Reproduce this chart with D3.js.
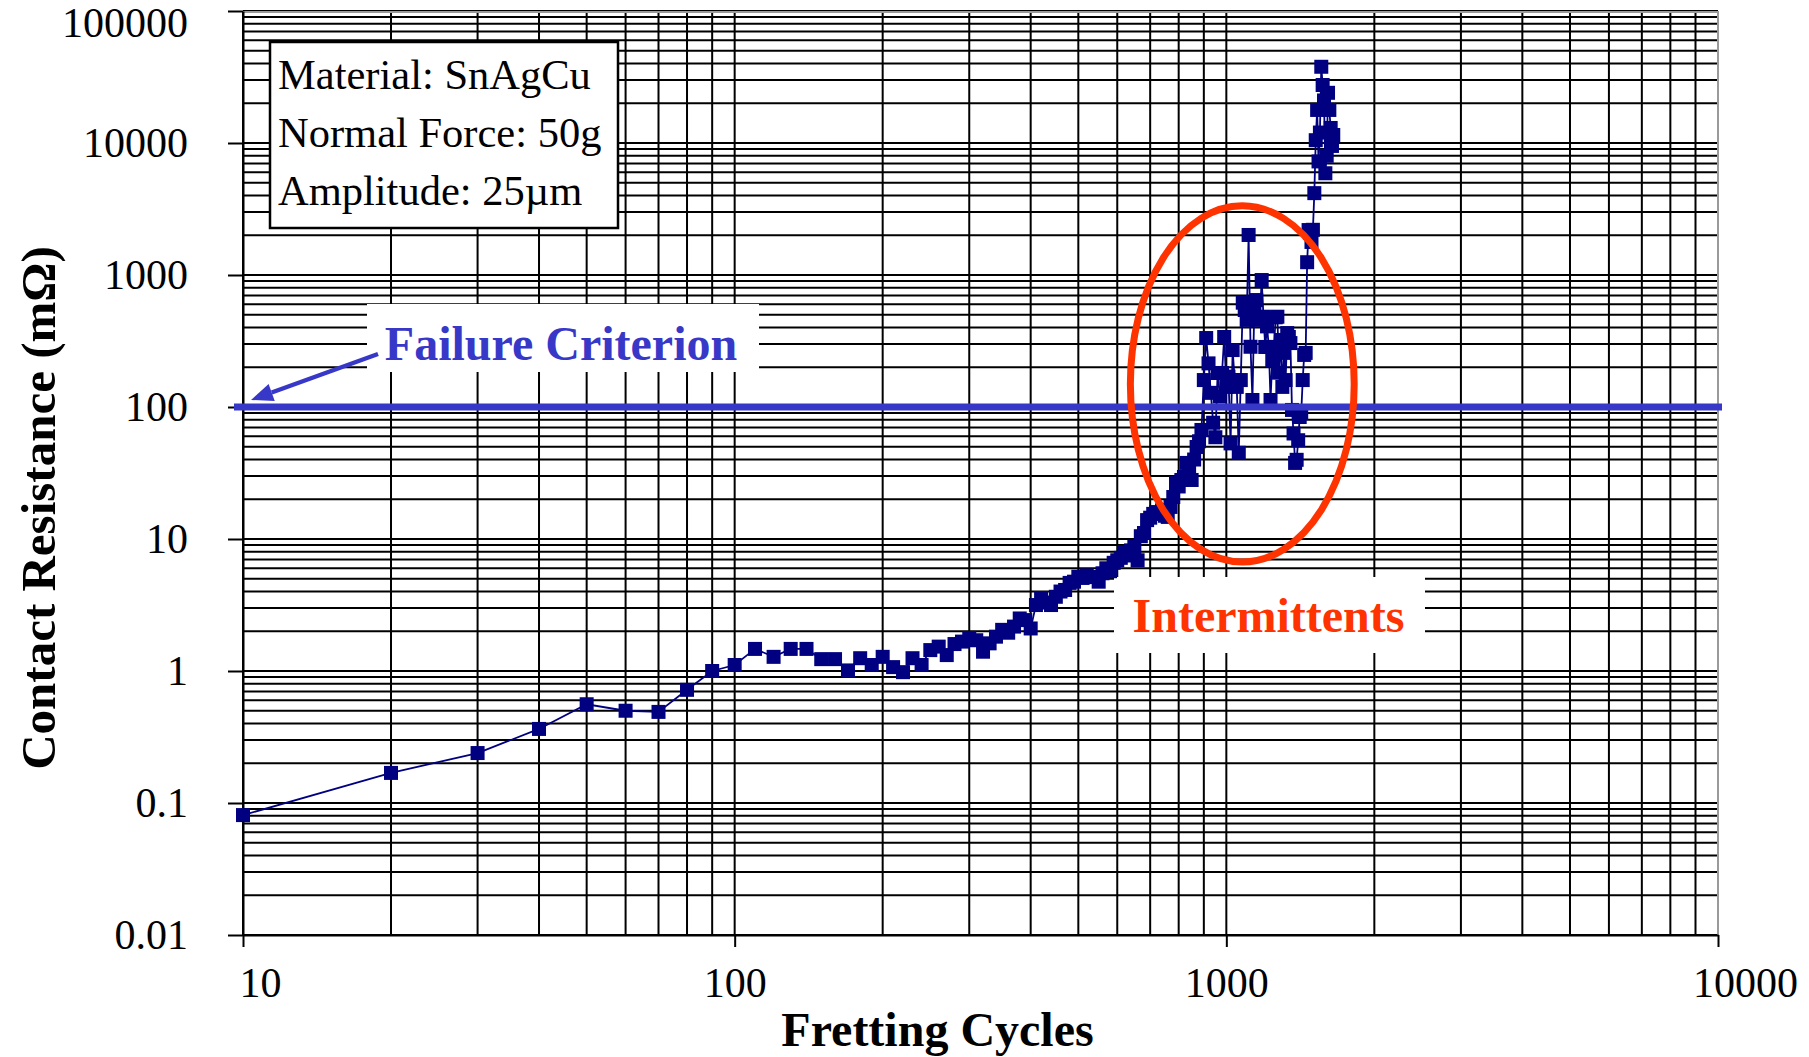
<!DOCTYPE html>
<html>
<head>
<meta charset="utf-8">
<script src="https://cdn.jsdelivr.net/npm/d3@7"></script>
<style>
  html, body { margin: 0; padding: 0; background: #fff; }
  svg { display: block; }
</style>
</head>
<body>
<svg id="chart" width="1809" height="1057"></svg>
<script>
// Fretting test: contact resistance vs. fretting cycles
const cycles = [
  10, 20, 30, 40, 50, 60, 70, 80, 90, 100,
  110, 120, 130, 140, 150, 160, 170, 180, 190, 200,
  210, 220, 230, 240, 250, 260, 270, 280, 290, 300,
  310, 320, 330, 340, 350, 360, 370, 380, 390, 400,
  410, 420, 430, 440, 450, 460, 470, 480, 490, 500,
  510, 520, 530, 540, 550, 560, 570, 580, 590, 600,
  610, 620, 630, 640, 650, 660, 670, 680, 690, 700,
  710, 720, 730, 740, 750, 760, 770, 780, 790, 800,
  810, 820, 830, 840, 850, 860, 870, 880, 890, 900,
  910, 920, 930, 940, 950, 960, 970, 980, 990, 1000,
  1010, 1020, 1030, 1040, 1050, 1060, 1070, 1080, 1090, 1100,
  1110, 1120, 1130, 1140, 1150, 1160, 1170, 1180, 1190, 1200,
  1210, 1220, 1230, 1240, 1250, 1260, 1270, 1280, 1290, 1300,
  1310, 1320, 1330, 1340, 1350, 1360, 1370, 1380, 1390, 1400,
  1410, 1420, 1430, 1440, 1450, 1460, 1470, 1480, 1490, 1500,
  1510, 1520, 1530, 1540, 1550, 1560, 1570, 1580, 1590, 1600,
  1610, 1620, 1630, 1640, 1650
];
const resistance = [
  0.081, 0.169, 0.239, 0.364, 0.56, 0.50, 0.49, 0.72, 1.0, 1.11,
  1.47, 1.28, 1.47, 1.47, 1.23, 1.23, 1.01, 1.25, 1.11, 1.28,
  1.07, 0.98, 1.25, 1.11, 1.44, 1.53, 1.32, 1.60, 1.67, 1.78,
  1.71, 1.40, 1.62, 1.82, 2.05, 1.95, 2.17, 2.50, 2.43, 2.10,
  3.16, 3.57, 3.30, 3.16, 3.65, 4.0, 4.11, 4.65, 4.75, 5.18,
  5.07, 5.30, 5.15, 5.15, 4.75, 5.5, 6.0, 5.7, 6.6, 6.9,
  7.2, 7.95, 7.5, 8.2, 8.7, 6.9, 10.5, 11.1, 13.9, 14.5,
  15.5, 16.0, 15.5, 16.5, 15.0, 14.7, 17.5, 20.8, 26.5, 25.0,
  28.0, 29.5, 37.7, 33.0, 28.0, 40.0, 49.8, 55, 67, 160,
  333, 214, 128, 76, 59, 181, 120, 181, 339, 142,
  170, 53, 270, 160, 142, 45, 160, 617, 543, 457,
  2010, 286, 113, 575, 646, 457, 478, 916, 483, 285,
  408, 285, 113, 227, 285, 478, 483, 182, 322, 142,
  257, 160, 363, 339, 305, 95, 63, 37.7, 39.8, 56,
  84, 90, 160, 248, 257, 1250, 2190, 2080, 1780, 2200,
  4170, 10500, 17800, 7250, 12000, 37800, 27500, 21000, 5900, 8000,
  24000, 17800, 13000, 9500, 11500
];

const xTickValues = [10, 100, 1000, 10000];
const xTickLabels = ["10", "100", "1000", "10000"];
const yTickValues = [0.01, 0.1, 1, 10, 100, 1000, 10000, 100000];
const yTickLabels = ["0.01", "0.1", "1", "10", "100", "1000", "10000", "100000"];

const failureCriterion = 100;               // mΩ
const infoLines = ["Material: SnAgCu", "Normal Force: 50g", "Amplitude: 25µm"];
const intermittentCycles = [638, 1820];      // ellipse extent on the cycle axis
const intermittentResistance = [6.7, 3340];  // ellipse extent on the resistance axis

const W = 1809, H = 1057;
const plot = { left: 243, right: 1718, top: 11, bottom: 935 };
const serif = "'Liberation Serif', 'Times New Roman', Times, serif";
const navy = "#000080";
const blue = "#3838c8";
const red = "#ff3300";

const svg = d3.select("#chart");
svg.append("rect").attr("width", W).attr("height", H).attr("fill", "#fff");

const x = d3.scaleLog().domain([10, 10000]).range([plot.left, plot.right]);
const y = d3.scaleLog().domain([0.01, 100000]).range([plot.bottom, plot.top]);

// Grid: every 1..9 multiple in each decade
const grid = svg.append("g").attr("stroke", "#000").attr("stroke-width", 2);
grid.selectAll("line.h").data(y.ticks(10)).join("line")
  .attr("class", "h")
  .attr("x1", plot.left).attr("x2", plot.right)
  .attr("y1", d => y(d)).attr("y2", d => y(d));
grid.selectAll("line.v").data(x.ticks(10)).join("line")
  .attr("class", "v")
  .attr("y1", plot.top).attr("y2", plot.bottom)
  .attr("x1", d => x(d)).attr("x2", d => x(d));

// Light outer frame on top and right
svg.append("path")
  .attr("d", `M${plot.left},${plot.top + 1}H${plot.right}V${plot.bottom}`)
  .attr("fill", "none").attr("stroke", "#9a9a9a").attr("stroke-width", 2);

// Axes
const yAxis = svg.append("g")
  .attr("transform", `translate(${plot.left},0)`)
  .call(d3.axisLeft(y).tickValues(yTickValues)
    .tickFormat((d, i) => yTickLabels[i]).tickSize(15).tickSizeOuter(0).tickPadding(40));
const xAxis = svg.append("g")
  .attr("transform", `translate(0,${plot.bottom})`)
  .call(d3.axisBottom(x).tickValues(xTickValues)
    .tickFormat((d, i) => xTickLabels[i]).tickSize(12).tickSizeOuter(0).tickPadding(20));

[yAxis, xAxis].forEach(ax => {
  ax.select(".domain").attr("stroke", "#000").attr("stroke-width", 2);
  ax.selectAll(".tick line").attr("stroke", "#000").attr("stroke-width", 2);
  ax.selectAll(".tick text")
    .attr("fill", "#000")
    .style("font-family", serif)
    .style("font-size", "42px");
});
// keep the topmost label inside the canvas
yAxis.selectAll(".tick text").attr("y", d => Math.max(0, plot.top + 12 - y(d)));
// edge labels sit slightly to the right of their ticks
xAxis.selectAll(".tick text").attr("dx", (d, i, n) => i === 0 ? 17 : (i === n.length - 1 ? 27 : 0));

// White annotation boxes hide the grid behind their text
const infoBox = { x: 270, y: 42, w: 348, h: 186 };
svg.append("rect")
  .attr("x", infoBox.x).attr("y", infoBox.y).attr("width", infoBox.w).attr("height", infoBox.h)
  .attr("fill", "#fff").attr("stroke", "#000").attr("stroke-width", 2.5);
svg.append("g").selectAll("text").data(infoLines).join("text")
  .attr("x", infoBox.x + 8)
  .attr("y", (d, i) => infoBox.y + 47 + i * 58)
  .attr("fill", "#000")
  .style("font-family", serif).style("font-size", "42.5px")
  .text(d => d);

const failBox = { x: 367, y: 304, w: 392, h: 68 };
svg.append("rect")
  .attr("x", failBox.x).attr("y", failBox.y).attr("width", failBox.w).attr("height", failBox.h)
  .attr("fill", "#fff");

const interBox = { x: 1114, y: 577, w: 311, h: 76 };
svg.append("rect")
  .attr("x", interBox.x).attr("y", interBox.y).attr("width", interBox.w).attr("height", interBox.h)
  .attr("fill", "#fff");

// Measured series
const series = cycles.map((c, i) => ({ c, r: resistance[i] }));
svg.append("path")
  .datum(series)
  .attr("fill", "none")
  .attr("stroke", navy)
  .attr("stroke-width", 1.8)
  .attr("d", d3.line().x(d => x(d.c)).y(d => y(d.r)));
const mk = 14;
svg.append("g").selectAll("rect").data(series).join("rect")
  .attr("x", d => x(d.c) - mk / 2)
  .attr("y", d => y(d.r) - mk / 2)
  .attr("width", mk).attr("height", mk)
  .attr("fill", navy);

// Failure criterion line
const yf = y(failureCriterion);
svg.append("line")
  .attr("x1", plot.left - 9).attr("x2", plot.right + 4)
  .attr("y1", yf).attr("y2", yf)
  .attr("stroke", blue).attr("stroke-width", 7);

// Arrow from the label to the criterion line
const tail = [failBox.x + 11, failBox.y + 50];
const tip = [x(10) + 8, yf - 7];
const ang = Math.atan2(tip[1] - tail[1], tip[0] - tail[0]);
const headLen = 22, headHalf = 9;
const base = [tip[0] - headLen * Math.cos(ang), tip[1] - headLen * Math.sin(ang)];
svg.append("line")
  .attr("x1", tail[0]).attr("y1", tail[1])
  .attr("x2", base[0]).attr("y2", base[1])
  .attr("stroke", blue).attr("stroke-width", 4.5);
svg.append("path")
  .attr("d", `M${tip[0]},${tip[1]}
    L${base[0] + headHalf * Math.sin(ang)},${base[1] - headHalf * Math.cos(ang)}
    L${base[0] - headHalf * Math.sin(ang)},${base[1] + headHalf * Math.cos(ang)}Z`)
  .attr("fill", blue);

svg.append("text")
  .attr("x", failBox.x + failBox.w / 2 - 2).attr("y", failBox.y + 56)
  .attr("text-anchor", "middle")
  .attr("fill", blue)
  .style("font-family", serif).style("font-size", "48px").style("font-weight", "bold")
  .text("Failure Criterion");

// Intermittent region
const ex0 = x(intermittentCycles[0]), ex1 = x(intermittentCycles[1]);
const ey0 = y(intermittentResistance[1]), ey1 = y(intermittentResistance[0]);
svg.append("ellipse")
  .attr("cx", (ex0 + ex1) / 2).attr("cy", (ey0 + ey1) / 2)
  .attr("rx", (ex1 - ex0) / 2).attr("ry", (ey1 - ey0) / 2)
  .attr("fill", "none").attr("stroke", red).attr("stroke-width", 7);

svg.append("text")
  .attr("x", interBox.x + interBox.w / 2 - 1).attr("y", interBox.y + 55)
  .attr("text-anchor", "middle")
  .attr("fill", red)
  .style("font-family", serif).style("font-size", "48px").style("font-weight", "bold")
  .text("Intermittents");

// Axis titles
svg.append("text")
  .attr("x", (plot.left + plot.right) / 2 - 43).attr("y", 1046)
  .attr("text-anchor", "middle")
  .attr("fill", "#000")
  .style("font-family", serif).style("font-size", "48px").style("font-weight", "bold")
  .text("Fretting Cycles");

svg.append("text")
  .attr("transform", `translate(55,508) rotate(-90)`)
  .attr("text-anchor", "middle")
  .attr("fill", "#000")
  .style("font-family", serif).style("font-size", "49px").style("font-weight", "bold")
  .text("Contact Resistance (mΩ)");
</script>
</body>
</html>
